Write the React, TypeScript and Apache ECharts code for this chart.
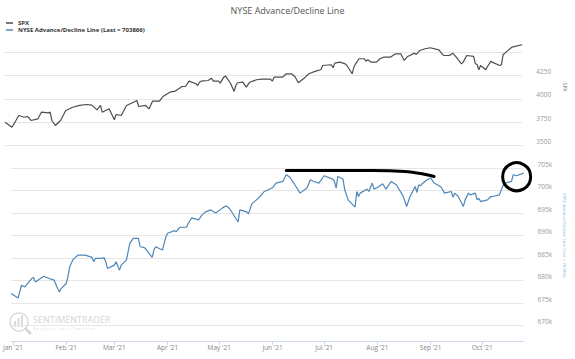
import React, { useEffect, useRef } from "react";
import * as echarts from "echarts";

const TITLE = "NYSE Advance/Decline Line";
const SPX_NAME = "SPX";
const AD_NAME = "NYSE Advance/Decline Line (Last = 703866)";
const MONTHS = ["Jan", "Feb", "Mar", "Apr", "May", "Jun", "Jul", "Aug", "Sep", "Oct", "Nov", "Dec"];

const X_MIN = "2020-12-31";
const X_MAX = "2021-10-25";

const spxDates = [
  "2020-12-31", "2021-01-04", "2021-01-08", "2021-01-11", "2021-01-13", "2021-01-15", "2021-01-19", "2021-01-21",
  "2021-01-25", "2021-01-26", "2021-01-27", "2021-01-29", "2021-02-01", "2021-02-04", "2021-02-08", "2021-02-12",
  "2021-02-16", "2021-02-19", "2021-02-22", "2021-02-24", "2021-02-25", "2021-03-01", "2021-03-04", "2021-03-05",
  "2021-03-08", "2021-03-11", "2021-03-15", "2021-03-17", "2021-03-18", "2021-03-22", "2021-03-24", "2021-03-26",
  "2021-03-30", "2021-04-01", "2021-04-05", "2021-04-08", "2021-04-12", "2021-04-14", "2021-04-16", "2021-04-20",
  "2021-04-21", "2021-04-22", "2021-04-23", "2021-04-27", "2021-04-29", "2021-04-30", "2021-05-03", "2021-05-04",
  "2021-05-06", "2021-05-07", "2021-05-10", "2021-05-12", "2021-05-13", "2021-05-14", "2021-05-17", "2021-05-19",
  "2021-05-21", "2021-05-25", "2021-05-28", "2021-06-02", "2021-06-03", "2021-06-04", "2021-06-09", "2021-06-11",
  "2021-06-14", "2021-06-16", "2021-06-18", "2021-06-22", "2021-06-24", "2021-06-28", "2021-07-01", "2021-07-02",
  "2021-07-07", "2021-07-08", "2021-07-09", "2021-07-12", "2021-07-15", "2021-07-16", "2021-07-19", "2021-07-20",
  "2021-07-21", "2021-07-23", "2021-07-26", "2021-07-27", "2021-07-28", "2021-07-30", "2021-08-02", "2021-08-04",
  "2021-08-06", "2021-08-10", "2021-08-13", "2021-08-16", "2021-08-18", "2021-08-20", "2021-08-24", "2021-08-25",
  "2021-08-27", "2021-08-30", "2021-09-02", "2021-09-07", "2021-09-09", "2021-09-10", "2021-09-13", "2021-09-15",
  "2021-09-17", "2021-09-20", "2021-09-21", "2021-09-23", "2021-09-27", "2021-09-28", "2021-09-29", "2021-09-30",
  "2021-10-01", "2021-10-04", "2021-10-05", "2021-10-07", "2021-10-08", "2021-10-12", "2021-10-13", "2021-10-14",
  "2021-10-15", "2021-10-19", "2021-10-21", "2021-10-22", "2021-10-25"
];
const spxValues = [
  3750, 3696, 3821, 3803, 3811, 3768, 3786, 3857,
  3850, 3857, 3768, 3714, 3768, 3875, 3910, 3929,
  3939, 3932, 3882, 3929, 3857, 3893, 3775, 3832,
  3821, 3929, 3964, 3982, 3918, 3929, 3893, 3975,
  3975, 4025, 4071, 4082, 4132, 4132, 4189, 4161,
  4143, 4178, 4189, 4196, 4221, 4189, 4189, 4168,
  4232, 4245, 4164, 4079, 4143, 4172, 4178, 4125,
  4178, 4204, 4211, 4211, 4189, 4232, 4232, 4268,
  4268, 4239, 4172, 4232, 4268, 4296, 4311, 4357,
  4365, 4333, 4382, 4393, 4375, 4357, 4268, 4340,
  4375, 4429, 4429, 4403, 4418, 4393, 4393, 4429,
  4446, 4446, 4482, 4482, 4411, 4454, 4489, 4475,
  4518, 4536, 4547, 4525, 4475, 4464, 4464, 4489,
  4446, 4375, 4393, 4464, 4454, 4375, 4368, 4311,
  4357, 4311, 4346, 4403, 4390, 4357, 4365, 4475,
  4489, 4553, 4561, 4568, 4579
];

const adDates = [
  "2020-12-31", "2021-01-04", "2021-01-06", "2021-01-08", "2021-01-12", "2021-01-13", "2021-01-14", "2021-01-19",
  "2021-01-22", "2021-01-25", "2021-01-27", "2021-01-28", "2021-01-29", "2021-02-01", "2021-02-02", "2021-02-03",
  "2021-02-05", "2021-02-08", "2021-02-10", "2021-02-12", "2021-02-16", "2021-02-17", "2021-02-18", "2021-02-22",
  "2021-02-23", "2021-02-24", "2021-02-25", "2021-03-01", "2021-03-02", "2021-03-04", "2021-03-05", "2021-03-08",
  "2021-03-10", "2021-03-12", "2021-03-15", "2021-03-16", "2021-03-18", "2021-03-19", "2021-03-23", "2021-03-24",
  "2021-03-25", "2021-03-29", "2021-03-31", "2021-04-01", "2021-04-05", "2021-04-06", "2021-04-08", "2021-04-12",
  "2021-04-13", "2021-04-15", "2021-04-19", "2021-04-21", "2021-04-23", "2021-04-26", "2021-04-29", "2021-05-03",
  "2021-05-05", "2021-05-07", "2021-05-12", "2021-05-13", "2021-05-17", "2021-05-18", "2021-05-20", "2021-05-24",
  "2021-05-27", "2021-06-01", "2021-06-03", "2021-06-07", "2021-06-09", "2021-06-11", "2021-06-14", "2021-06-17",
  "2021-06-21", "2021-06-23", "2021-06-25", "2021-06-28", "2021-07-01", "2021-07-06", "2021-07-07", "2021-07-08",
  "2021-07-09", "2021-07-12", "2021-07-13", "2021-07-15", "2021-07-19", "2021-07-20", "2021-07-21", "2021-07-22",
  "2021-07-26", "2021-07-27", "2021-07-29", "2021-07-30", "2021-08-02", "2021-08-04", "2021-08-06", "2021-08-09",
  "2021-08-12", "2021-08-16", "2021-08-18", "2021-08-20", "2021-08-23", "2021-08-24", "2021-08-25", "2021-08-26",
  "2021-08-27", "2021-08-30", "2021-09-01", "2021-09-03", "2021-09-07", "2021-09-08", "2021-09-09", "2021-09-13",
  "2021-09-14", "2021-09-15", "2021-09-17", "2021-09-20", "2021-09-21", "2021-09-23", "2021-09-24", "2021-09-27",
  "2021-09-28", "2021-09-29", "2021-09-30", "2021-10-04", "2021-10-05", "2021-10-06", "2021-10-07", "2021-10-11",
  "2021-10-13", "2021-10-14", "2021-10-18", "2021-10-19", "2021-10-21", "2021-10-25"
];
const adValues = [
  677100, 676100, 678950, 678570, 680450, 680670, 679690, 680960,
  680450, 680070, 678210, 677460, 678210, 679330, 680800, 683040,
  684690, 685650, 685650, 685650, 685130, 684150, 684910, 684910,
  685130, 684150, 682680, 683420, 684150, 682300, 683420, 684530,
  688260, 689380, 689380, 687500, 687370, 687140, 685130, 686770,
  687500, 686770, 689730, 690490, 691070, 690850, 691830, 691830,
  692720, 693910, 693460, 694580, 695250, 695690, 695020, 696140,
  696590, 696000, 693010, 695690, 695250, 694800, 697030, 698370,
  699710, 700600, 701650, 702010, 703500, 702990, 701270, 699420,
  700540, 702390, 702010, 701650, 703280, 702540, 702010, 700540,
  703120, 702540, 700160, 697920, 696290, 699780, 698660, 699420,
  700310, 699780, 701650, 700310, 700890, 701500, 700310, 702010,
  701270, 698740, 696430, 698660, 700890, 699560, 701270, 701050,
  701500, 702390, 702770, 701650, 700760, 700160, 699420, 699780,
  698480, 699420, 698660, 696430, 697920, 699420, 699040, 699420,
  697920, 698290, 697540, 697920, 698290, 698660, 698660, 699040,
  701050, 701650, 702010, 703500, 703280, 703866
];

// hand-drawn annotations (in data coordinates)
const trendDates = ["2021-06-09", "2021-07-29", "2021-08-17", "2021-08-27", "2021-09-03"];
const trendValues = [704460, 704460, 704240, 703730, 703120];
const circleDate = "2021-10-21";
const circleValue = 703060;

const SPX_LABELS = [3500, 3750, 4000, 4250];
const AD_LABELS = [670000, 675000, 680000, 685000, 690000, 695000, 700000, 705000];

export default function App() {
  const ref = useRef<HTMLDivElement>(null);
  useEffect(() => {
    if (!ref.current) return;
    const chart = echarts.init(ref.current, undefined, { renderer: "svg" });
    const grid = "#e6e6e6";
    const xLabelFmt = (v: number) => {
      const d = new Date(v);
      return MONTHS[d.getMonth()] + " '" + String(d.getFullYear()).slice(2);
    };
    chart.setOption({
      animation: false,
      textStyle: { fontFamily: "Open Sans" },
      title: {
        text: TITLE,
        left: "center",
        top: 1,
        textStyle: { fontSize: 9, fontWeight: "normal", color: "#555" },
      },
      legend: {
        orient: "vertical",
        left: 1,
        top: 15,
        itemWidth: 7,
        itemHeight: 1.5,
        itemGap: 1,
        icon: "rect",
        textStyle: { fontSize: 6, fontWeight: "bold", color: "#333" },
        data: [SPX_NAME, AD_NAME],
      },
      grid: [
        { left: 5, right: 39, top: 28.8, height: 116.7 },
        { left: 5, right: 39, top: 145.5, height: 180 },
      ],
      xAxis: [
        { gridIndex: 0, type: "time", min: X_MIN, max: X_MAX, show: false },
        {
          gridIndex: 1,
          type: "time",
          min: X_MIN,
          max: X_MAX,
          offset: 15.5,
          splitNumber: 10,
          axisLine: { lineStyle: { color: "#ccd6eb" } },
          axisTick: { length: 4, lineStyle: { color: "#ccd6eb" } },
          axisLabel: { fontSize: 6.5, color: "#888", margin: 3, formatter: xLabelFmt, hideOverlap: false },
          splitLine: { show: false },
        },
      ],
      yAxis: [
        {
          gridIndex: 0,
          type: "value",
          position: "right",
          min: 3500,
          max: 4750,
          interval: 250,
          axisLine: { show: false },
          axisTick: { show: false },
          splitLine: { lineStyle: { color: [grid, grid, grid, grid, grid, "rgba(0,0,0,0)"], width: 1 } },
          axisLabel: {
            fontSize: 6.5,
            color: "#999",
            margin: 14,
            verticalAlign: "bottom",
            lineHeight: 8,
            formatter: (v: number) => (SPX_LABELS.indexOf(v) >= 0 ? String(v) : ""),
          },
          name: SPX_NAME,
          nameLocation: "middle",
          nameRotate: -90,
          nameGap: 30,
          nameTextStyle: { fontSize: 5, color: "#777" },
        },
        {
          gridIndex: 1,
          type: "value",
          position: "right",
          min: 670000,
          max: 710000,
          interval: 5000,
          axisLine: { show: false },
          axisTick: { show: false },
          splitLine: { lineStyle: { color: grid, width: 1 } },
          axisLabel: {
            fontSize: 6.5,
            color: "#999",
            margin: 14,
            verticalAlign: "bottom",
            lineHeight: 8,
            formatter: (v: number) => (AD_LABELS.indexOf(v) >= 0 ? v / 1000 + "k" : ""),
          },
          name: AD_NAME,
          nameLocation: "middle",
          nameRotate: -90,
          nameGap: 30,
          nameTextStyle: { fontSize: 4.3, color: "#8ab4dc" },
        },
      ],
      graphic: [
        {
          type: "group",
          z: 0,
          silent: true,
          children: [
            { type: "circle", shape: { cx: 19, cy: 322, r: 9 }, style: { fill: "none", stroke: "#dadada", lineWidth: 1.5 } },
            { type: "rect", shape: { x: 14, y: 321, width: 2, height: 6 }, style: { fill: "#dadada" } },
            { type: "rect", shape: { x: 17.5, y: 318, width: 2, height: 9 }, style: { fill: "#dadada" } },
            { type: "rect", shape: { x: 21, y: 315.5, width: 2, height: 11.5 }, style: { fill: "#dadada" } },
            { type: "line", shape: { x1: 25.5, y1: 328.5, x2: 31, y2: 334 }, style: { stroke: "#d3d3d3", lineWidth: 2.5 } },
            {
              type: "text",
              x: 33,
              y: 315,
              style: { text: "SENTIMENTRADER", fontSize: 9, fill: "#d6d6d6", fontFamily: "Open Sans" },
            },
            {
              type: "text",
              x: 33,
              y: 326,
              style: { text: "A n a l y s i s   o v e r   E m o t i o n", fontSize: 4, fill: "#dadada", fontFamily: "Open Sans" },
            },
          ],
        },
      ],
      series: [
        {
          name: SPX_NAME,
          type: "line",
          xAxisIndex: 0,
          yAxisIndex: 0,
          showSymbol: false,
          color: "#4d4d4d",
          lineStyle: { width: 1.2, color: "#4d4d4d" },
          data: spxDates.map((d, i) => [d, spxValues[i]]),
        },
        {
          name: AD_NAME,
          type: "line",
          xAxisIndex: 1,
          yAxisIndex: 1,
          showSymbol: false,
          color: "#4f86b9",
          lineStyle: { width: 1.2, color: "#4f86b9" },
          data: adDates.map((d, i) => [d, adValues[i]]),
          markPoint: {
            silent: true,
            symbol: "circle",
            symbolSize: 28,
            label: { show: false },
            itemStyle: { color: "rgba(0,0,0,0)", borderColor: "#000", borderWidth: 3 },
            data: [{ coord: [circleDate, circleValue] }],
          },
        },
        {
          name: "annotation",
          type: "line",
          xAxisIndex: 1,
          yAxisIndex: 1,
          showSymbol: false,
          smooth: 0.3,
          silent: true,
          color: "#000",
          lineStyle: { width: 3, color: "#000", cap: "round" },
          data: trendDates.map((d, i) => [d, trendValues[i]]),
        },
      ],
    });
    return () => chart.dispose();
  }, []);
  return <div ref={ref} style={{ position: "absolute", left: 0, top: 0, width: 575, height: 359 }} />;
}
